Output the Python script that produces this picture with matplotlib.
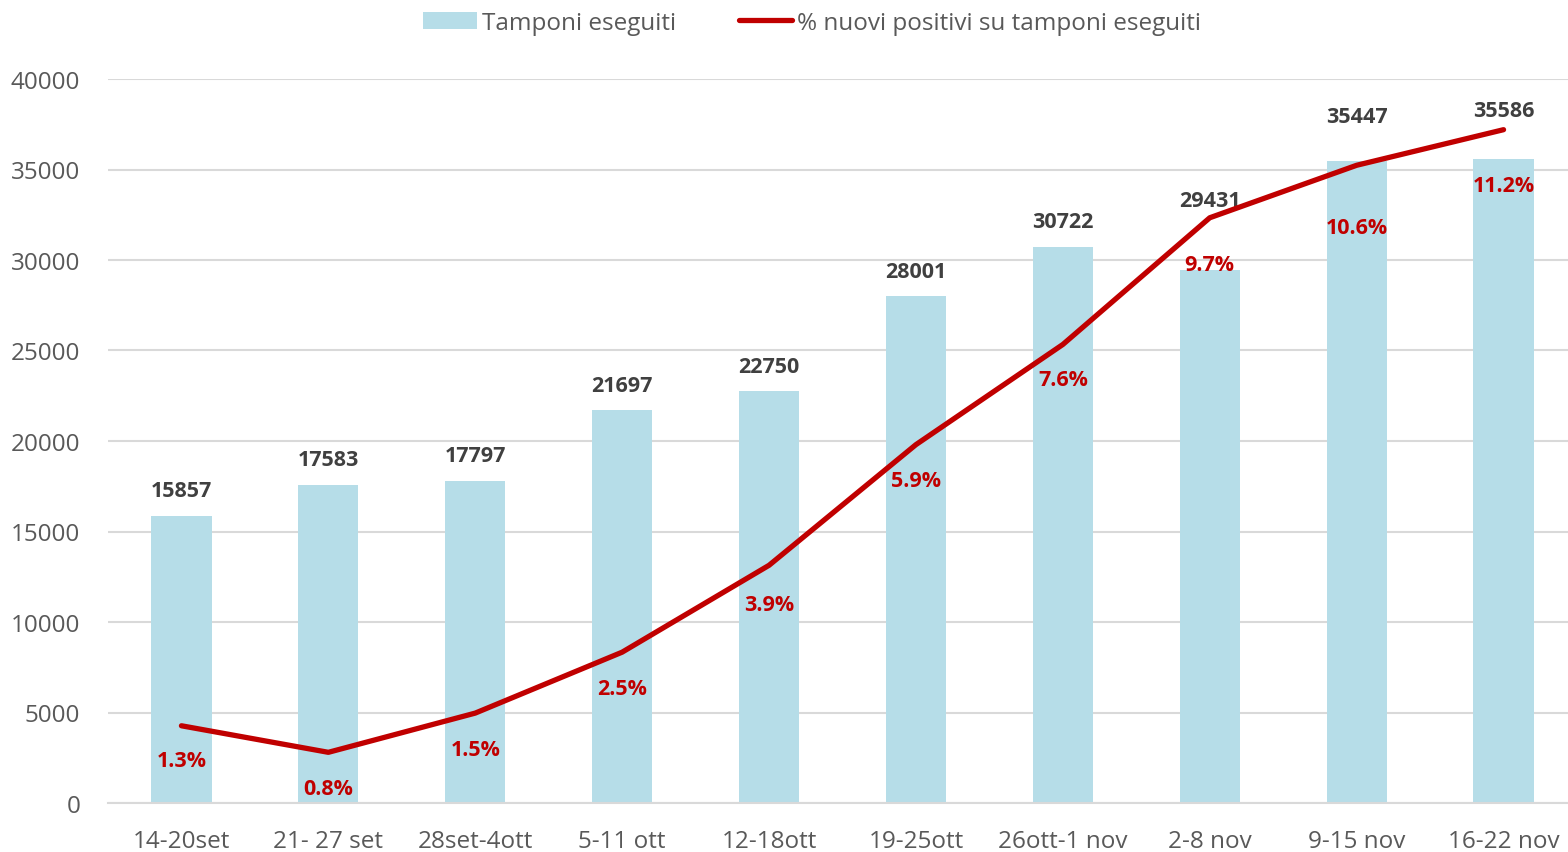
"""Tamponi eseguiti per settimana con la quota di nuovi positivi sovrapposta."""

import matplotlib.pyplot as plt
from matplotlib.lines import Line2D
from matplotlib.patches import Patch

plt.rcParams["font.family"] = ["Open Sans", "DejaVu Sans"]

WEEKS = ["14-20set", "21- 27 set", "28set-4ott", "5-11 ott", "12-18ott",
         "19-25ott", "26ott-1 nov", "2-8 nov", "9-15 nov", "16-22 nov"]
TAMPONI = [15857, 17583, 17797, 21697, 22750, 28001, 30722, 29431, 35447, 35586]
PCT_POSITIVI = [1.28, 0.84, 1.49, 2.50, 3.94, 5.94, 7.60, 9.70, 10.57, 11.16]
Y_TICKS = [0, 5000, 10000, 15000, 20000, 25000, 30000, 35000, 40000]

# label offsets in points (the chart's labels were nudged by hand in places)
BAR_LABEL_RAISE = [18, 18, 18, 18, 18, 18, 18, 50, 32, 35]
PCT_LABEL_DROP = [25, 26, 26, 26, 28, 26, 25, 34, 45, 40]

BAR_COLOR = "#B6DDE8"
LINE_COLOR = "#C00000"
TEXT_COLOR = "#595959"
GRID_COLOR = "#D9D9D9"

fig = plt.figure(figsize=(15.68, 8.53), dpi=100)
ax = fig.add_axes([108 / 1568, 49 / 853, 1469 / 1568, 724 / 853])
x = list(range(len(WEEKS)))

ax.bar(x, TAMPONI, width=0.41, color=BAR_COLOR, zorder=2)
ax.set_xlim(-0.5, len(WEEKS) - 0.5)
ax.set_ylim(0, 40000)
ax.set_yticks(Y_TICKS)
ax.set_xticks(x, WEEKS)
ax.yaxis.grid(True, color=GRID_COLOR, linewidth=1.5, zorder=0)
ax.set_axisbelow(True)
for side in ("left", "right", "top"):
    ax.spines[side].set_visible(False)
ax.spines["bottom"].set_color(GRID_COLOR)
ax.spines["bottom"].set_linewidth(1.5)
ax.tick_params(axis="y", length=0, pad=20, labelsize=17.5, labelcolor=TEXT_COLOR)
ax.tick_params(axis="x", length=0, pad=19, labelsize=17.5, labelcolor=TEXT_COLOR)

for xi, val, raise_pt in zip(x, TAMPONI, BAR_LABEL_RAISE):
    ax.annotate(f"{val}", (xi, val), xytext=(0, raise_pt), textcoords="offset points",
                ha="center", va="center", fontsize=15.5, fontweight="bold",
                color="#404040", zorder=5)

ax2 = ax.twinx()
ax2.set_ylim(0, 12)
ax2.axis("off")
ax2.plot(x, PCT_POSITIVI, color=LINE_COLOR, linewidth=3.8, solid_capstyle="round",
         zorder=4)
for xi, val, drop_pt in zip(x, PCT_POSITIVI, PCT_LABEL_DROP):
    ax2.annotate(f"{val:.1f}%", (xi, val), xytext=(0, -drop_pt), textcoords="offset points",
                 ha="center", va="center", fontsize=15.5, fontweight="bold",
                 color=LINE_COLOR, zorder=5)

handles = [Patch(facecolor=BAR_COLOR, label="Tamponi eseguiti"),
           Line2D([], [], color=LINE_COLOR, linewidth=3.8, solid_capstyle="round",
                  label="% nuovi positivi su tamponi eseguiti")]
leg = fig.legend(handles=handles, loc="center", bbox_to_anchor=(0.518, 0.972), ncol=2,
                 frameon=False, fontsize=17.5, labelcolor=TEXT_COLOR,
                 handlelength=2.2, handletextpad=0.2, columnspacing=2.6)

fig.savefig("out.png", dpi=100, facecolor="white")
